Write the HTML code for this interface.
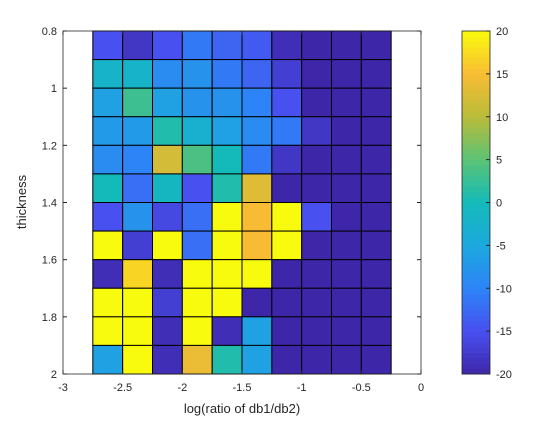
<!DOCTYPE html>
<html><head><meta charset="utf-8"><style>
body{margin:0;background:#fff;}
text{font-family:"Liberation Sans",Arial,sans-serif;fill:#262626;}
</style></head><body>
<svg id="chart" width="560" height="420" xmlns="http://www.w3.org/2000/svg">
<rect width="560" height="420" fill="#fff"/>
<g id="cells"></g>
<g id="axes"></g>
<g id="cbar"></g>
<text x="242" y="413" font-size="13" text-anchor="middle">log(ratio of db1/db2)</text>
<text transform="translate(26,202) rotate(-90)" font-size="13" text-anchor="middle">thickness</text>
</svg>
<script>
const xCenters=[-2.625,-2.375,-2.125,-1.875,-1.625,-1.375,-1.125,-0.875,-0.625,-0.375];
const yCenters=[0.85,0.95,1.05,1.15,1.25,1.35,1.45,1.55,1.65,1.75,1.85,1.95];
const values=[
[-15,-18,-15,-11,-13,-14,-19,-20,-20,-20],
[-2,-2,-9,-8,-11,-13,-17,-20,-20,-20],
[-6,3,-6,-8,-8,-10,-15,-20,-20,-20],
[-7,-7,1,-3,-6,-9,-11,-18,-20,-20],
[-9,-10,12,4,0,-11,-18,-20,-20,-20],
[0,-12,-1,-15,1,13,-20,-20,-20,-20],
[-15,-8,-16,-12,20,15,20,-15,-20,-20],
[20,-17,20,-12,20,15,20,-20,-20,-20],
[-19,17,-19,20,20,20,-20,-20,-20,-20],
[20,20,-17,20,20,-20,-20,-20,-20,-20],
[20,20,-19,20,-19,-6,-20,-20,-20,-20],
[-6,20,-19,14,1,-6,-20,-20,-20,-20]
];
const xTicks=[-3,-2.5,-2,-1.5,-1,-0.5,0];
const yTicks=[0.8,1,1.2,1.4,1.6,1.8,2];
const cTicks=[-20,-15,-10,-5,0,5,10,15,20];
const NS="http://www.w3.org/2000/svg";
const X0=63,X1=421,Y0=31,Y1=374;
const sx=v=>X0+(v+3)/3*(X1-X0);
const sy=v=>Y0+(v-0.8)/1.2*(Y1-Y0);
const cmin=-20,cmax=20;
const stops=[[62,38,168],[72,80,240],[45,132,246],[28,168,222],[20,186,185],[90,194,118],[185,188,58],[248,188,52],[249,251,14]];
function cmap(v){let t=Math.max(0,Math.min(1,(v-cmin)/(cmax-cmin)))*(stops.length-1);let i=Math.min(stops.length-2,Math.floor(t)),f=t-i;
const c=stops[i].map((a,k)=>Math.round(a+(stops[i+1][k]-a)*f));return `rgb(${c})`;}
function el(tag,attrs,parent){const e=document.createElementNS(NS,tag);for(const k in attrs)e.setAttribute(k,attrs[k]);parent.appendChild(e);return e;}
const cells=document.getElementById('cells');
const cw=0.25,ch=0.1;
yCenters.forEach((yc,r)=>xCenters.forEach((xc,c)=>{
 const e=el('rect',{x:sx(xc-cw/2),y:sy(yc-ch/2),width:sx(xc+cw/2)-sx(xc-cw/2),height:sy(yc+ch/2)-sy(yc-ch/2),fill:cmap(values[r][c]),stroke:'#000','stroke-width':1},cells);
 
 
}));
const axes=document.getElementById('axes');
el('rect',{x:X0,y:Y0,width:X1-X0,height:Y1-Y0,fill:'none',stroke:'#262626','stroke-width':0.8},axes);
xTicks.forEach(t=>{const x=sx(t);
 el('line',{x1:x,x2:x,y1:Y1,y2:Y1-4,stroke:'#262626'},axes);
 el('line',{x1:x,x2:x,y1:Y0,y2:Y0+4,stroke:'#262626'},axes);
 const tx=el('text',{x:x,y:Y1+17,'font-size':11,'text-anchor':'middle'},axes);tx.textContent=t;
 
 });
yTicks.forEach(t=>{const y=sy(t);
 el('line',{x1:X0,x2:X0+4,y1:y,y2:y,stroke:'#262626'},axes);
 el('line',{x1:X1,x2:X1-4,y1:y,y2:y,stroke:'#262626'},axes);
 const tx=el('text',{x:X0-6,y:y+4,'font-size':11,'text-anchor':'end'},axes);tx.textContent=t;
 
 });
const cb=document.getElementById('cbar');
const CX=462,CW=28;
const cy=v=>Y1-(v-cmin)/(cmax-cmin)*(Y1-Y0);
for(let i=0;i<64;i++){const v0=cmin+i*(cmax-cmin)/64,v1=cmin+(i+1)*(cmax-cmin)/64;
 el('rect',{x:CX,y:cy(v1),width:CW,height:cy(v0)-cy(v1)+0.5,fill:cmap((v0+v1)/2)},cb);}
el('rect',{x:CX,y:Y0,width:CW,height:Y1-Y0,fill:'none',stroke:'#262626','stroke-width':0.8},cb);
cTicks.forEach(t=>{const y=cy(t);
 el('line',{x1:CX+CW-4,x2:CX+CW,y1:y,y2:y,stroke:'#262626'},cb);
 const tx=el('text',{x:CX+CW+6,y:y+4,'font-size':11},cb);tx.textContent=t;
 
 });
</script>
</body></html>
